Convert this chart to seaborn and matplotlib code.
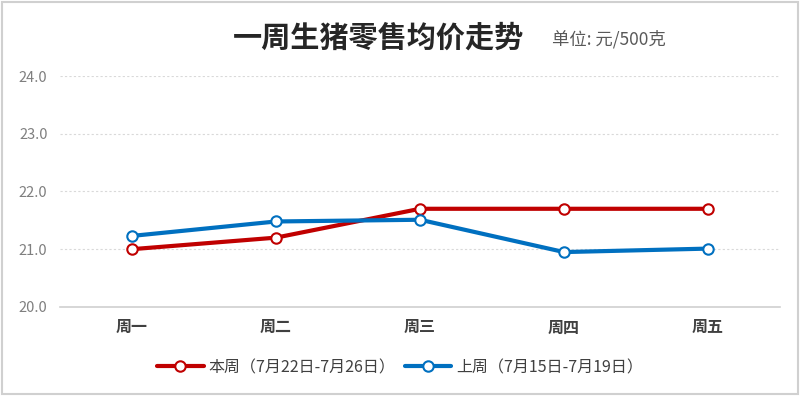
import matplotlib
matplotlib.use('Agg')
import matplotlib.pyplot as plt
import seaborn as sns
import pandas as pd
from matplotlib.patches import Rectangle

days = ['周一', '周二', '周三', '周四', '周五']
this_week = [21.0, 21.2, 21.7, 21.7, 21.7]
last_week = [21.23, 21.48, 21.51, 20.95, 21.01]
this_label = '本周（7月22日-7月26日）'
last_label = '上周（7月15日-7月19日）'
y_ticks = [20.0, 21.0, 22.0, 23.0, 24.0]

RED = '#C00000'
BLUE = '#0070C0'


def main() -> None:
    sns.set_theme(style='white')
    plt.rcParams['font.family'] = ['Noto Sans CJK SC', 'DejaVu Sans']

    df = pd.DataFrame({'day': days, 'this': this_week, 'last': last_week})
    df['pos'] = range(len(days))

    fig = plt.figure(figsize=(8, 3.96), dpi=100)
    ax = fig.add_axes([0.075, 0.225, 0.9, 0.583])

    for col, color, label in [('this', RED, this_label), ('last', BLUE, last_label)]:
        sns.lineplot(x=df['pos'], y=df[col], ax=ax, color=color, linewidth=3, label=label,
                     marker='o', markersize=7.5, markerfacecolor='white', markeredgecolor=color,
                     markeredgewidth=1.5)

    ax.set_xlim(-0.5, len(days) - 0.5)
    ax.set_ylim(y_ticks[0], y_ticks[-1])
    ax.set_yticks(y_ticks)
    ax.set_yticklabels([f'{v:.1f}' for v in y_ticks], color='#7f7f7f', fontsize=10.5)
    ax.set_xticks(df['pos'])
    ax.set_xticklabels(days, color='#404040', fontsize=11.5, fontweight='bold')
    ax.set_xticks([p - 0.5 for p in range(len(days) + 1)], minor=True)
    ax.tick_params(axis='x', which='major', length=0, pad=9)
    ax.tick_params(axis='x', which='minor', direction='in', length=5, color='#d0d0d0', width=1)
    ax.tick_params(axis='y', length=0, pad=9)
    ax.set_xlabel('')
    ax.set_ylabel('')

    for v in y_ticks[1:]:
        ax.axhline(v, color='#d9d9d9', linestyle=(0, (2, 2)), linewidth=0.8, zorder=0)

    for side in ['top', 'right', 'left']:
        ax.spines[side].set_visible(False)
    ax.spines['bottom'].set_color('#d0d0d0')
    ax.spines['bottom'].set_linewidth(1.2)

    ax.legend(loc='center', bbox_to_anchor=(0.5, 0.072), bbox_transform=fig.transFigure, ncol=2,
              frameon=False, fontsize=11.5, handlelength=2.9, columnspacing=0.6, handletextpad=0.3,
              labelcolor='#404040')

    fig.text(0.291, 0.905, '一周生猪零售均价走势', fontsize=21, fontweight='bold', color='#262626',
             ha='left', va='center')
    fig.text(0.69, 0.9, '单位: 元/500克', fontsize=12.5, color='#595959', ha='left', va='center')

    fig.patches.append(Rectangle((0.003, 0.005), 0.994, 0.99, transform=fig.transFigure,
                                 fill=False, edgecolor='#d0d0d0', linewidth=1.5))

    fig.savefig('out.png', dpi=100)


if __name__ == '__main__':
    main()
